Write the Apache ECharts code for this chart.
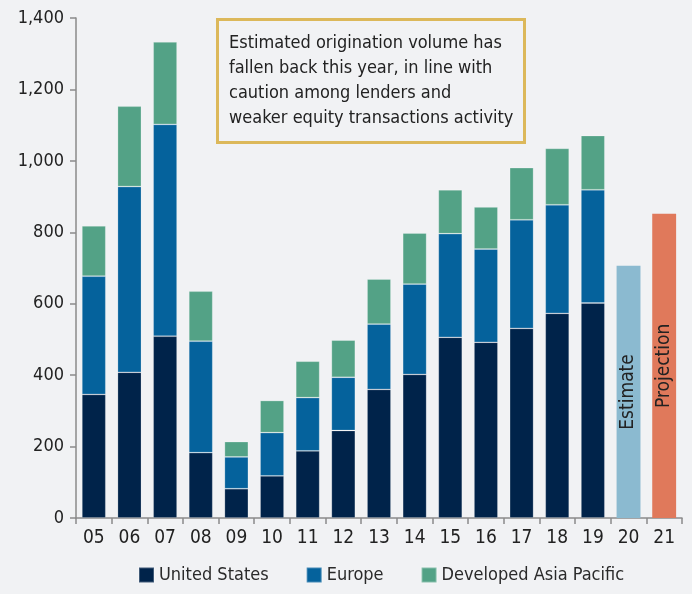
<!DOCTYPE html>
<html>
<head>
<meta charset="utf-8">
<script src="https://cdn.jsdelivr.net/npm/echarts@6/dist/echarts.min.js"></script>
<style>
html,body{margin:0;padding:0;background:#f1f2f4;}
#c{width:692px;height:594px;}
</style>
</head>
<body>
<div id="c"></div>
<script>
const categories = ['05','06','07','08','09','10','11','12','13','14','15','16','17','18','19','20','21'];
const unitedStates = [346,408,509,183,82,118,188,245,360,402,506,492,531,573,602,null,null];
const europe       = [331,520,593,312,89,121,149,149,183,253,290,261,304,304,317,null,null];
const asiaPacific  = [141,225,231,140,43,90,102,104,126,143,123,118,146,158,152,null,null];
const estimate     = [null,null,null,null,null,null,null,null,null,null,null,null,null,null,null,706,null];
const projection   = [null,null,null,null,null,null,null,null,null,null,null,null,null,null,null,null,852];
const yTicks = [0,200,400,600,800,1000,1200,1400];
const note = 'Estimated origination volume has\nfallen back this year, in line with\ncaution among lenders and\nweaker equity transactions activity';

const FONT = '"DejaVu Sans Condensed","Liberation Sans Narrow",sans-serif';
const chart = echarts.init(document.getElementById('c'), null, {renderer:'canvas'});
const barW = '67%';
chart.setOption({
  backgroundColor:'#f1f2f4',
  animation:false,
  textStyle:{fontFamily:FONT},
  grid:{left:76,right:10,top:18,bottom:76,containLabel:false},
  legend:{
    data:['United States','Europe','Developed Asia Pacific'],
    bottom:5, left:133, itemWidth:15, itemHeight:15, itemGap:37,
    icon:'rect',
    textStyle:{fontFamily:FONT,fontSize:18,color:'#2a2a2a'}
  },
  xAxis:{
    type:'category', data:categories,
    axisLine:{lineStyle:{color:'#8a8a8a',width:1.5}},
    axisTick:{show:true,length:6,lineStyle:{color:'#8a8a8a',width:1.5}},
    axisLabel:{fontFamily:FONT,fontSize:19,color:'#222',margin:11}
  },
  yAxis:{
    type:'value', min:0, max:1400, interval:200,
    splitLine:{show:false},
    axisLine:{show:true,lineStyle:{color:'#8a8a8a',width:1.5}},
    axisTick:{show:true,length:6,lineStyle:{color:'#8a8a8a',width:1.5}},
    axisLabel:{fontFamily:FONT,fontSize:18,color:'#222',margin:12,
      formatter:v=>yTicks.includes(v)?v.toLocaleString('en-US'):''}
  },
  series:[
    {name:'United States',type:'bar',stack:'a',barWidth:barW,data:unitedStates,
      itemStyle:{color:'#00234a',borderColor:'rgba(255,255,255,0.25)',borderWidth:0.8}},
    {name:'Europe',type:'bar',stack:'a',barWidth:barW,data:europe,
      itemStyle:{color:'#05629c',borderColor:'rgba(255,255,255,0.25)',borderWidth:0.8}},
    {name:'Developed Asia Pacific',type:'bar',stack:'a',barWidth:barW,data:asiaPacific,
      itemStyle:{color:'#53a286',borderColor:'rgba(255,255,255,0.3)',borderWidth:0.8}},
    {name:'Estimate',type:'bar',stack:'a',barWidth:barW,data:estimate,
      itemStyle:{color:'#8bbad0'},
      label:{show:true,position:'inside',rotate:90,formatter:'Estimate',
        fontFamily:FONT,fontSize:19,color:'#222'}},
    {name:'Projection',type:'bar',stack:'a',barWidth:barW,data:projection,
      itemStyle:{color:'#e0795b'},
      label:{show:true,position:'inside',rotate:90,formatter:'Projection',
        fontFamily:FONT,fontSize:19,color:'#222'}}
  ],
  graphic:[
    {type:'rect',left:216,top:18,z:10,
      shape:{width:307,height:123},
      style:{fill:'#f1f2f4',stroke:'#dcb85a',lineWidth:3}},
    {type:'text',left:229,top:31,z:11,
      style:{text:note,font:'18px '+FONT,fill:'#222',lineHeight:25}}
  ]
});
</script>
</body>
</html>
